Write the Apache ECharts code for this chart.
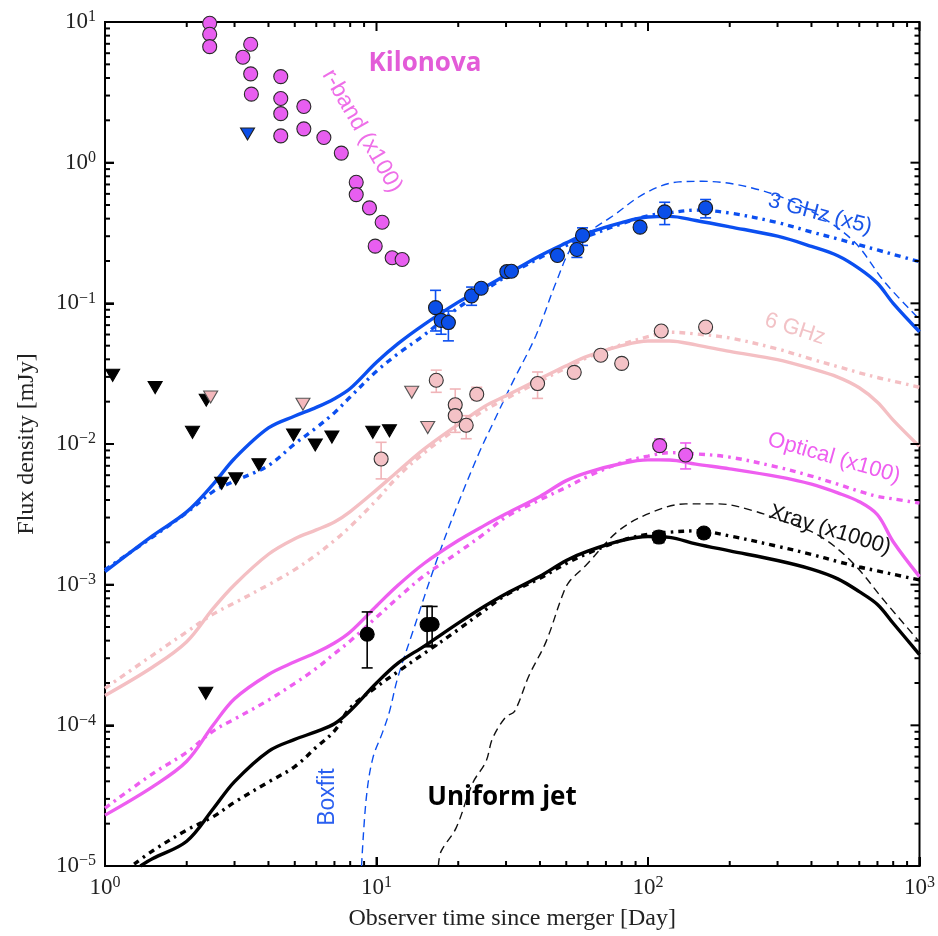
<!DOCTYPE html>
<html><head><meta charset="utf-8">
<script src="https://cdn.jsdelivr.net/npm/echarts@6/dist/echarts.min.js"></script>
<style>html,body{margin:0;padding:0;background:#fff}#c{width:938px;height:936px}</style>
</head><body><div id="c"></div><script>
// ---------- data (days, mJy) ----------
const tGrid = [1,1.5,2,2.5,3,4,5,6,7,8,10,12,15,20,25,30,40,50,60,80,100,120,150,200,300,400,500,600,700,800,1000];
const ghz3Solid = [1.236e-3,2.23e-3,3.29e-3,5.16e-3,7.89e-3,0.0130,0.0158,0.0182,0.0210,0.0248,0.0381,0.0517,0.0709,0.102,0.130,0.159,0.218,0.269,0.316,0.375,0.411,0.415,0.388,0.350,0.300,0.254,0.218,0.1766,0.1389,0.100,0.0628];
const ghz3DashDot = [1.277e-3,2.19e-3,3.25e-3,4.59e-3,5.45e-3,7.03e-3,0.01002,0.01306,0.0167,0.0216,0.0329,0.0438,0.0597,0.0929,0.1236,0.155,0.211,0.258,0.300,0.368,0.419,0.4406,0.4597,0.4384,0.375,0.3214,0.2868,0.2603,0.2395,0.2229,0.1976];
const ghz6Solid = [1.63e-4,2.60e-4,3.93e-4,6.76e-4,1.00e-3,1.645e-3,2.12e-3,2.45e-3,2.79e-3,3.31e-3,4.72e-3,6.40e-3,9.22e-3,0.01377,0.0185,0.0220,0.0291,0.0360,0.0421,0.0500,0.0540,0.0540,0.0507,0.0455,0.0398,0.0343,0.0299,0.0251,0.0198,0.0148,0.0096];
const ghz6DashDot = [1.83e-4,3.16e-4,4.62e-4,6.17e-4,7.42e-4,9.98e-4,1.28e-3,1.63e-3,2.06e-3,2.59e-3,3.99e-3,5.89e-3,8.66e-3,0.01313,0.01737,0.0210,0.0280,0.0348,0.0412,0.0510,0.0579,0.0623,0.0606,0.0567,0.0474,0.0401,0.0355,0.0321,0.0297,0.0280,0.0253];
const opticalSolid = [2.30e-5,3.67e-5,5.55e-5,1.00e-4,1.545e-4,2.30e-4,2.83e-4,3.29e-4,3.85e-4,4.61e-4,7.06e-4,9.90e-4,1.42e-3,2.06e-3,2.64e-3,3.19e-3,4.24e-3,5.49e-3,6.29e-3,7.27e-3,7.71e-3,7.70e-3,7.19e-3,6.66e-3,5.86e-3,5.18e-3,4.49e-3,3.89e-3,3.14e-3,2.02e-3,1.14e-3];
const opticalDashDot = [2.58e-5,4.54e-5,6.43e-5,9.09e-5,1.107e-4,1.511e-4,1.99e-4,2.54e-4,3.23e-4,3.98e-4,5.86e-4,8.05e-4,1.16e-3,1.695e-3,2.31e-3,3.03e-3,4.01e-3,4.92e-3,5.88e-3,7.38e-3,8.20e-3,8.68e-3,8.51e-3,8.06e-3,6.85e-3,5.91e-3,5.18e-3,4.61e-3,4.24e-3,4.07e-3,3.80e-3];
const xraySolidT = [1.35,1.5,2,2.5,3,4,5,6,7,8,10,12,15,20,25,30,40,50,60,80,100,120,150,200,300,400,500,600,700,800,1000];
const xraySolid = [1.0e-5,1.13e-5,1.50e-5,2.54e-5,3.98e-5,6.54e-5,7.94e-5,9.02e-5,1.026e-4,1.27e-4,2.00e-4,2.77e-4,3.66e-4,5.33e-4,7.03e-4,8.63e-4,1.148e-3,1.487e-3,1.73e-3,2.06e-3,2.20e-3,2.17e-3,1.95e-3,1.74e-3,1.485e-3,1.29e-3,1.10e-3,8.92e-4,7.23e-4,5.32e-4,3.18e-4];
const xrayDashDotT = [1.28,1.5,2,2.5,3,4,5,6,7,8,10,12,15,20,25,30,40,50,60,80,100,120,150,200,300,400,500,600,700,800,1000];
const xrayDashDot = [1.03e-5,1.284e-5,1.80e-5,2.24e-5,2.84e-5,3.95e-5,5.09e-5,6.98e-5,9.12e-5,1.33e-4,1.875e-4,2.41e-4,3.25e-4,4.79e-4,6.57e-4,8.45e-4,1.109e-3,1.416e-3,1.67e-3,2.065e-3,2.28e-3,2.36e-3,2.415e-3,2.22e-3,1.873e-3,1.64e-3,1.459e-3,1.335e-3,1.253e-3,1.185e-3,1.081e-3];
const boxfitRadioT = [8.81,9.17,9.69,10.55,11.16,11.95,13.60,16.58,19.63,23.92,26.77,31.7,38.6,45.8,52.7,62.4,73.9,98.1,130,158.4,241.8,369.3,563.8,747.9,1000];
const boxfitRadio = [1.0e-5,3.04e-5,5.83e-5,9.02e-5,1.25e-4,2.15e-4,4.62e-4,1.448e-3,3.46e-3,8.73e-3,0.01386,0.0274,0.0586,0.140,0.255,0.335,0.416,0.610,0.730,0.737,0.661,0.490,0.284,0.140,0.077];
const boxfitXrayT = [16.9,17.29,19.63,22.6,25.3,26.77,29.99,32.2,36.5,42.1,48.4,51.2,59.0,78.2,103.7,137.6,182.4,241.8,320.8,425.3,563.8,747.9,1000];
const boxfitXray = [1.0e-5,1.27e-5,1.86e-5,3.88e-5,5.53e-5,8.09e-5,1.153e-4,1.25e-4,2.27e-4,3.92e-4,8.40e-4,1.045e-3,1.37e-3,2.43e-3,3.28e-3,3.75e-3,3.75e-3,3.37e-3,2.79e-3,2.24e-3,1.45e-3,7.54e-4,3.92e-4];

const kilonovaT = [2.43,2.43,2.43,3.22,3.44,3.44,3.46,4.44,4.44,4.44,4.44,5.40,5.40,6.40,7.42,8.42,8.42,9.42,10.49,9.89,11.42,12.43];
const kilonovaF = [9.8,8.18,6.68,5.62,6.95,4.28,3.07,4.09,2.86,2.23,1.55,2.51,1.74,1.51,1.17,0.725,0.593,0.477,0.377,0.255,0.211,0.205];
const ghz3T = [16.5,17.3,18.4,22.4,24.3,30.2,31.4,46.4,54.7,57.4,93.5,115.2,163];
const ghz3F = [0.0932,0.0757,0.073,0.113,0.128,0.168,0.169,0.219,0.2415,0.304,0.348,0.447,0.477];
const ghz3ErrT = [16.5,17.3,18.4,22.4,30.2,54.7,57.4,115.2,163];
const ghz3ErrLo = [0.0636,0.0603,0.0541,0.0968,0.155,0.212,0.258,0.363,0.405];
const ghz3ErrHi = [0.1237,0.090,0.0882,0.1305,0.18,0.274,0.344,0.523,0.547];
const ghz3UpperT = [3.35];
const ghz3UpperF = [1.60];
const ghz6T = [10.4,16.6,19.5,19.5,21.4,23.4,39.2,53.5,67.0,80.0,111.9,163];
const ghz6F = [0.00783,0.0284,0.019,0.0159,0.0136,0.0226,0.0269,0.0323,0.0428,0.0374,0.0636,0.0679];
const ghz6ErrT = [10.4,16.6,19.5,21.4,23.4,39.2];
const ghz6ErrLo = [0.00565,0.0233,0.0121,0.0109,0.0206,0.0211];
const ghz6ErrHi = [0.01028,0.0335,0.0246,0.0159,0.0253,0.0325];
const ghz6UpperT = [2.45,5.36,13.48,15.44];
const ghz6UpperF = [0.0216,0.0192,0.0233,0.0131];
const opticalT = [110.4,137.6];
const opticalF = [0.00973,0.00836];
const opticalErrLo = [0.00895,0.00665];
const opticalErrHi = [0.01085,0.01017];
const xrayT = [9.24,15.36,16.03,109.7,160.6];
const xrayF = [0.000444,0.00052,0.000523,0.00218,0.00233];
const xrayErrLo = [0.000256,0.000362,0.00037,0.00199,0.00215];
const xrayErrHi = [0.00064,0.000702,0.0007,0.00239,0.00249];
const blackUpperT = [1.067,1.53,2.36,2.10,2.69,3.03,3.69,4.95,5.95,6.85,9.69,11.16,2.35];
const blackUpperF = [0.0308,0.0252,0.0205,0.0121,0.00526,0.00565,0.00713,0.0116,0.00984,0.0112,0.0121,0.0124,0.000169];

// tick positions
const xMajorTicks = [1,10,100,1000];
const xMinorTicks = [2,3,4,5,6,7,8,9,20,30,40,50,60,70,80,90,200,300,400,500,600,700,800,900];
const yMajorTicks = [1e-5,1e-4,1e-3,1e-2,1e-1,1,10];
const yMinorBase = [2,3,4,5,6,7,8,9];
const yDecades = [1e-5,1e-4,1e-3,1e-2,1e-1,1];
const X_MIN = 1, X_MAX = 1000, Y_MIN = 1e-5, Y_MAX = 10;

// ---------- colours ----------
const BLUE = '#0b4ff0', PINK = '#f4bfc3', MAG = '#ee5ef0', BLACK = '#000';

const pairs = (ts, vs) => ts.map((t, i) => [t, vs[i]]);
const triples = (ts, lo, hi) => ts.map((t, i) => [t, lo[i], hi[i]]);

function lineSeries(data, color, kind) {
  const ls = {color: color, width: 3.4, cap: 'butt'};
  if (kind === 'dashdot') ls.type = [6, 5, 2.5, 5];
  if (kind === 'dash') { ls.type = [8, 5]; ls.width = 1.4; }
  return {type: 'line', data: data, smooth: 0.35, showSymbol: false, symbol: 'none',
    lineStyle: ls, z: 2, silent: true, animation: false};
}
function errRender(params, api) {
  const x = api.value(0);
  const p1 = api.coord([x, api.value(1)]), p2 = api.coord([x, api.value(2)]);
  const cw = 5.5;
  const st = {stroke: api.visual('color'), lineWidth: 1.6};
  return {type: 'group', children: [
    {type: 'line', shape: {x1: p1[0], y1: p1[1], x2: p2[0], y2: p2[1]}, style: st},
    {type: 'line', shape: {x1: p1[0]-cw, y1: p1[1], x2: p1[0]+cw, y2: p1[1]}, style: st},
    {type: 'line', shape: {x1: p2[0]-cw, y1: p2[1], x2: p2[0]+cw, y2: p2[1]}, style: st}
  ]};
}
function errSeries(data, color) {
  return {type: 'custom', data: data, renderItem: errRender, encode: {x: 0, y: [1, 2]},
    itemStyle: {color: color}, z: 3, silent: true, animation: false};
}
function scatter(data, fill, border, sym) {
  const s = {type: 'scatter', data: data, symbol: sym || 'circle', symbolSize: 14,
    itemStyle: {color: fill, borderColor: border, borderWidth: 1.1, opacity: 1}, z: 4, silent: true, animation: false};
  if (sym === 'triangle') { s.symbolRotate = 180; s.symbolSize = [14, 12]; }
  return s;
}
// ticks on all four sides, positioned through the axis scales (rendered like error bars)
function xTickRender(len) {
  return function (params, api) {
    const v = api.value(0);
    const pb = api.coord([v, api.value(1)]), pt = api.coord([v, api.value(2)]);
    const st = {stroke: api.visual('color'), lineWidth: 2};
    return {type: 'group', children: [
      {type: 'line', shape: {x1: pb[0], y1: pb[1], x2: pb[0], y2: pb[1] - len}, style: st},
      {type: 'line', shape: {x1: pt[0], y1: pt[1], x2: pt[0], y2: pt[1] + len}, style: st}
    ]};
  };
}
function yTickRender(len) {
  return function (params, api) {
    const v = api.value(0);
    const pl = api.coord([api.value(1), v]), pr = api.coord([api.value(2), v]);
    const st = {stroke: api.visual('color'), lineWidth: 2};
    return {type: 'group', children: [
      {type: 'line', shape: {x1: pl[0], y1: pl[1], x2: pl[0] + len, y2: pl[1]}, style: st},
      {type: 'line', shape: {x1: pr[0], y1: pr[1], x2: pr[0] - len, y2: pr[1]}, style: st}
    ]};
  };
}
function xTickSeries(vals, len) {
  return {type: 'custom', data: vals.map(v => [v, Y_MIN, Y_MAX]), renderItem: xTickRender(len),
    encode: {x: 0, y: [1, 2]}, itemStyle: {color: '#000'}, z: 5, silent: true, animation: false};
}
function yTickSeries(vals, len) {
  return {type: 'custom', data: vals.map(v => [v, X_MIN, X_MAX]), renderItem: yTickRender(len),
    encode: {y: 0, x: [1, 2]}, itemStyle: {color: '#000'}, z: 5, silent: true, animation: false};
}
const yMinorVals = [];
yDecades.forEach(d => yMinorBase.forEach(b => yMinorVals.push(b * d)));

const tickFont = 'Liberation Serif';
function powLabel(v) {
  const e = Math.round(Math.log10(v));
  return '{b|10}{s|' + (e < 0 ? '\u2212' + (-e) : e) + '}';
}
const richLab = {
  b: {fontFamily: tickFont, fontSize: 23, color: '#222', lineHeight: 26},
  s: {fontFamily: tickFont, fontSize: 16, color: '#222', verticalAlign: 'top', lineHeight: 14}
};

const sansLab = 'Liberation Sans';
function txt(text, x, y, deg, color, font) {
  return {type: 'text', x: x, y: y, rotation: deg * Math.PI / 180, z: 10, silent: true,
    style: {text: text, fill: color, font: font, align: 'center', verticalAlign: 'middle'}};
}

const chart = echarts.init(document.getElementById('c'));
chart.setOption({
  animation: false,
  backgroundColor: '#fff',
  grid: {left: 105, right: 17, top: 22, bottom: 69, show: true, borderColor: '#000', borderWidth: 2, backgroundColor: 'transparent'},
  xAxis: {
    type: 'log', logBase: 10, min: X_MIN, max: X_MAX,
    axisLine: {show: true, lineStyle: {color: '#000', width: 2}},
    axisTick: {show: true, inside: true, length: 9, lineStyle: {color: '#000', width: 2}},
    splitLine: {show: false},
    axisLabel: {formatter: powLabel, rich: richLab, margin: 9, showMaxLabel: true, showMinLabel: true},
    name: 'Observer time since merger [Day]', nameLocation: 'middle', nameGap: 41,
    nameTextStyle: {fontFamily: tickFont, fontSize: 24, color: '#222'}
  },
  yAxis: {
    type: 'log', logBase: 10, min: Y_MIN, max: Y_MAX,
    axisLine: {show: true, lineStyle: {color: '#000', width: 2}},
    axisTick: {show: true, inside: true, length: 9, lineStyle: {color: '#000', width: 2}},
    splitLine: {show: false},
    axisLabel: {formatter: powLabel, rich: richLab, margin: 9, showMaxLabel: true, showMinLabel: true},
    name: 'Flux density [mJy]', nameLocation: 'middle', nameGap: 66,
    nameTextStyle: {fontFamily: tickFont, fontSize: 24, color: '#222'}
  },
  series: [
    xTickSeries(xMajorTicks, 9),
    xTickSeries(xMinorTicks, 5),
    yTickSeries(yMajorTicks, 9),
    yTickSeries(yMinorVals, 5),
    lineSeries(pairs(boxfitRadioT, boxfitRadio), BLUE, 'dash'),
    lineSeries(pairs(boxfitXrayT, boxfitXray), '#111', 'dash'),
    lineSeries(pairs(tGrid, ghz6Solid), PINK, 'solid'),
    lineSeries(pairs(tGrid, ghz6DashDot), PINK, 'dashdot'),
    lineSeries(pairs(tGrid, opticalSolid), MAG, 'solid'),
    lineSeries(pairs(tGrid, opticalDashDot), MAG, 'dashdot'),
    lineSeries(pairs(xraySolidT, xraySolid), BLACK, 'solid'),
    lineSeries(pairs(xrayDashDotT, xrayDashDot), BLACK, 'dashdot'),
    lineSeries(pairs(tGrid, ghz3Solid), BLUE, 'solid'),
    lineSeries(pairs(tGrid, ghz3DashDot), BLUE, 'dashdot'),
    errSeries(triples(ghz3ErrT, ghz3ErrLo, ghz3ErrHi), BLUE),
    errSeries(triples(ghz6ErrT, ghz6ErrLo, ghz6ErrHi), '#f0b4b8'),
    errSeries(triples(opticalT, opticalErrLo, opticalErrHi), MAG),
    errSeries(triples(xrayT, xrayErrLo, xrayErrHi), BLACK),
    scatter(pairs(kilonovaT, kilonovaF), '#e85ef0', '#2a2a2a'),
    scatter(pairs(blackUpperT, blackUpperF), '#000', '#000', 'triangle'),
    scatter(pairs(ghz6UpperT, ghz6UpperF), '#f4b8bc', '#555', 'triangle'),
    scatter(pairs(ghz3UpperT, ghz3UpperF), '#0b4fe8', '#222', 'triangle'),
    scatter(pairs(ghz6T, ghz6F), '#f4c2c6', '#333'),
    scatter(pairs(ghz3T, ghz3F), '#0b4fe8', '#1a1a1a'),
    scatter(pairs(opticalT, opticalF), '#e85ef0', '#2a2a2a'),
    scatter(pairs(xrayT, xrayF), '#000', '#000')
  ],
  graphic: [
    txt('Kilonova', 425, 64, 0, '#e35cd8', 'bold 26px "Open Sans"'),
    txt('r-band (x100)', 362, 131, -60, '#ee6ee8', '23px "' + sansLab + '"'),
    txt('3 GHz (x5)', 820, 214, -15, '#1a55e8', '22px "' + sansLab + '"'),
    txt('6 GHz', 795, 329, -18, '#f2c2c6', '22px "' + sansLab + '"'),
    txt('Optical (x100)', 834, 458, -16, '#ee5ef0', '22px "' + sansLab + '"'),
    txt('Xray (x1000)', 830, 530, -17, '#111', '22px "' + sansLab + '"'),
    txt('Boxfit', 328, 797, 90, '#2a5ff0', '23px "' + sansLab + '"'),
    txt('Uniform jet', 502, 798, 0, '#000', 'bold 26px "Open Sans"')
  ]
});
</script></body></html>
